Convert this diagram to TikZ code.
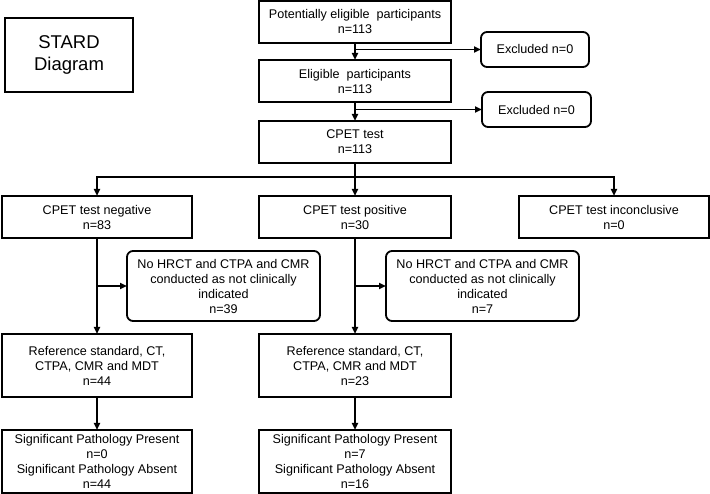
\documentclass[tikz,border=0pt]{standalone}
\usepackage{fontspec}
\setmainfont{Liberation Sans}
\usetikzlibrary{arrows.meta}
\begin{document}
\begin{tikzpicture}[x=1pt,y=-1pt,
  every node/.style={font=\fontsize{12.6}{15}\selectfont, align=center, inner sep=0pt, outer sep=0pt},
  box/.style={draw, line width=1.8pt, rectangle},
  rbox/.style={draw, line width=1.8pt, rectangle, rounded corners=6pt},
  arr/.style={line width=1.8pt, -{Triangle[length=7pt,width=6pt]}}]
\useasboundingbox (0,0) rectangle (710,494);
\node[box, minimum width=128, minimum height=74, font=\fontsize{18.5}{22}\selectfont] (stard) at (69,55) {STARD\\Diagram};
\node[box, minimum width=192, minimum height=42] (b1) at (355,22) {Potentially eligible\ \ participants\\n=113};
\node[box, minimum width=192, minimum height=42] (b2) at (355,81) {Eligible\ \ participants\\n=113};
\node[box, minimum width=192, minimum height=42] (b3) at (355,142) {CPET test\\n=113};
\node[rbox, minimum width=108, minimum height=35] (ex1) at (535,49.5) {Excluded n=0};
\node[rbox, minimum width=109, minimum height=35] (ex2) at (536.5,109.5) {Excluded n=0};
\node[box, minimum width=190, minimum height=42] (neg) at (97,217) {CPET test negative\\n=83};
\node[box, minimum width=192, minimum height=42] (pos) at (355,217) {CPET test positive\\n=30};
\node[box, minimum width=190, minimum height=42] (inc) at (614,217) {CPET test inconclusive\\n=0};
\node[rbox, minimum width=193, minimum height=70] (nh1) at (223.5,286) {No HRCT and CTPA and CMR\\conducted as not clinically\\indicated\\n=39};
\node[rbox, minimum width=193, minimum height=70] (nh2) at (482.5,286) {No HRCT and CTPA and CMR\\conducted as not clinically\\indicated\\n=7};
\node[box, minimum width=190, minimum height=63] (ref1) at (97,365.5) {Reference standard, CT,\\CTPA, CMR and MDT\\n=44};
\node[box, minimum width=192, minimum height=63] (ref2) at (355,365.5) {Reference standard, CT,\\CTPA, CMR and MDT\\n=23};
\node[box, minimum width=190, minimum height=63] (sig1) at (97,461.5) {Significant Pathology Present\\n=0\\Significant Pathology Absent\\n=44};
\node[box, minimum width=192, minimum height=63] (sig2) at (355,461.5) {Significant Pathology Present\\n=7\\Significant Pathology Absent\\n=16};
\coordinate (split) at (355,177);
\draw[arr] (b1.south) -- (b2.north);
\draw[arr] (ex1.west -| b1.south) -- (ex1.west);
\draw[arr] (b2.south) -- (b3.north);
\draw[arr] (ex2.west -| b2.south) -- (ex2.west);
\draw[arr] (b3.south) -- (pos.north);
\draw[arr] (split) -| (neg.north);
\draw[arr] (split) -| (inc.north);
\draw[arr] (neg.south) -- (ref1.north);
\draw[arr] (nh1.west -| neg.south) -- (nh1.west);
\draw[arr] (pos.south) -- (ref2.north);
\draw[arr] (nh2.west -| pos.south) -- (nh2.west);
\draw[arr] (ref1.south) -- (sig1.north);
\draw[arr] (ref2.south) -- (sig2.north);
\end{tikzpicture}
\end{document}
